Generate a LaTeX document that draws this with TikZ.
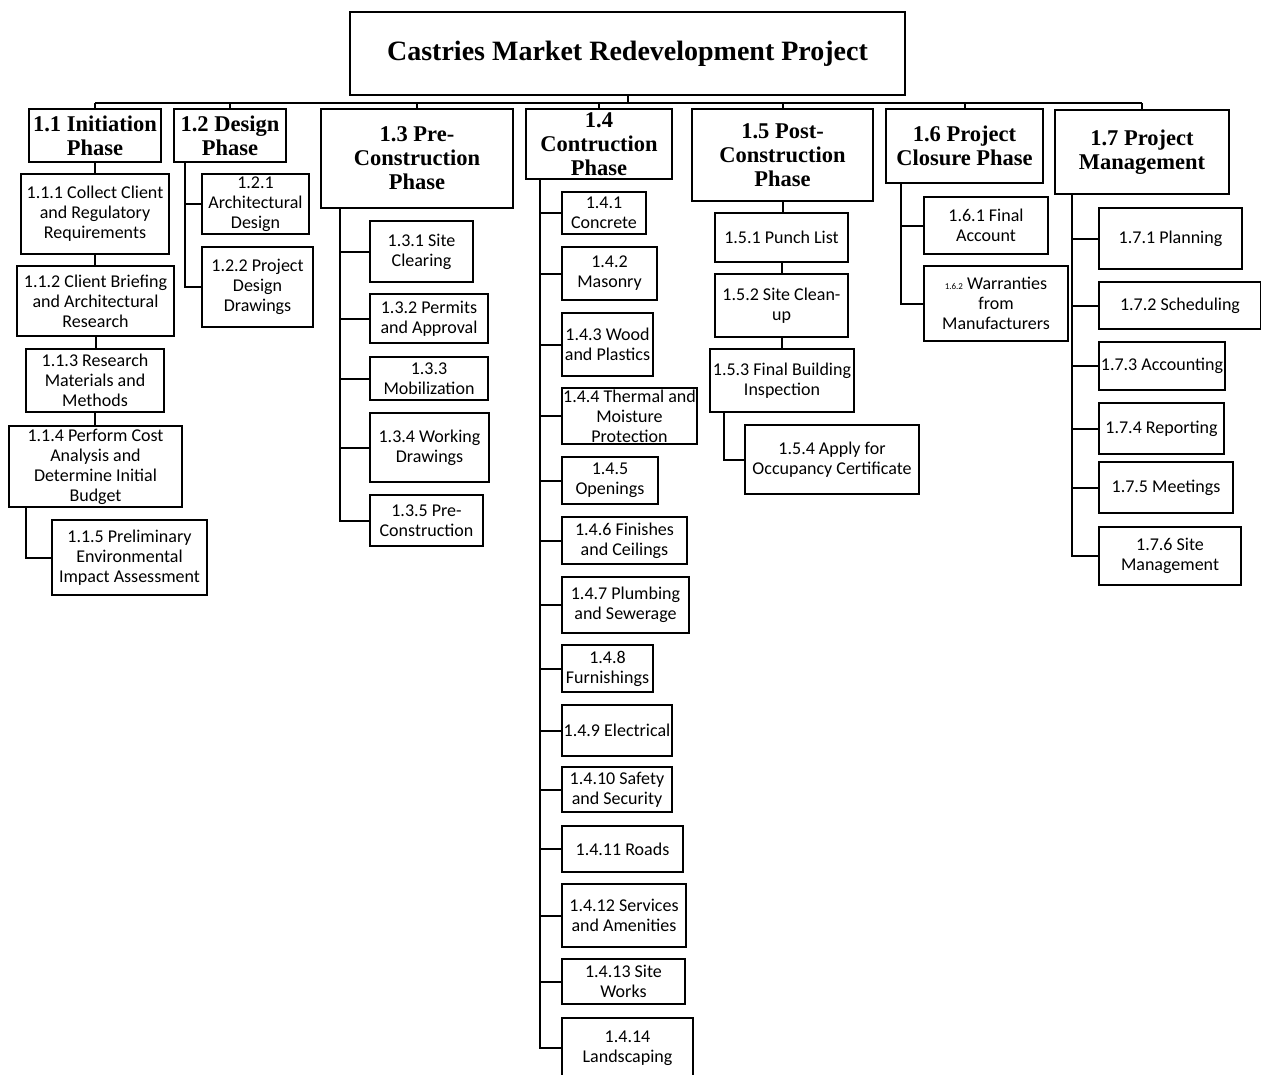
\documentclass[tikz,border=0pt]{standalone}
\usepackage{fontspec}
\setmainfont{Carlito}
\newfontfamily\serifb{Liberation Serif}
\usetikzlibrary{calc}
\tikzset{
  wbs/.style={draw, line width=2pt, inner sep=0pt, align=center, font=\fontsize{18}{20}\selectfont},
  phase/.style={wbs, font=\serifb\bfseries\fontsize{22.5}{24}\selectfont},
  toptitle/.style={wbs, font=\serifb\bfseries\fontsize{28}{30}\selectfont},
  link/.style={line width=2pt},
}
\newcommand\wbsnode[7]{\node[#1, minimum width={(#5-#3)*1pt}, minimum height={(#6-#4)*1pt}] (#2) at ({(#3+#5)/2},{(#4+#6)/2}) {#7};}
\begin{document}
\begin{tikzpicture}[x=1pt,y=-1pt]
\useasboundingbox (0,0) rectangle (1261,1074);
\clip (0,0) rectangle (1261,1074);
% top
\wbsnode{toptitle}{top}{350}{12}{905}{95}{\raisebox{-3pt}{Castries Market Redevelopment Project}}
% phases
\wbsnode{phase}{p1}{29}{109}{161}{162}{1.1 Initiation\\Phase}
\wbsnode{phase}{p2}{174}{109}{286}{162}{1.2 Design\\Phase}
\wbsnode{phase}{p3}{321}{109}{513}{208}{1.3 Pre-\\Construction\\Phase}
\wbsnode{phase}{p4}{526}{109}{672}{179}{1.4\\Contruction\\Phase}
\wbsnode{phase}{p5}{692}{109}{873}{201}{1.5 Post-\\Construction\\Phase}
\wbsnode{phase}{p6}{886}{109}{1043}{183}{1.6 Project\\Closure Phase}
\wbsnode{phase}{p7}{1055}{110}{1229}{194}{1.7 Project\\Management}
% 1.1
\wbsnode{wbs}{a1}{21}{174}{169}{254}{1.1.1 Collect Client\\and Regulatory\\Requirements}
\wbsnode{wbs}{a2}{17}{266}{174}{336}{1.1.2 Client Briefing\\and Architectural\\Research}
\wbsnode{wbs}{a3}{26}{349}{164}{412}{1.1.3 Research\\Materials and\\Methods}
\wbsnode{wbs}{a4}{9}{426}{182}{507}{1.1.4 Perform Cost\\Analysis and\\Determine Initial\\Budget}
\wbsnode{wbs}{a5}{52}{520}{207}{595}{1.1.5 Preliminary\\Environmental\\Impact Assessment}
% 1.2
\wbsnode{wbs}{b1}{202}{174}{309}{234}{1.2.1\\Architectural\\Design}
\wbsnode{wbs}{b2}{202}{247}{313}{327}{1.2.2 Project\\Design\\Drawings}
% 1.3
\wbsnode{wbs}{c1}{370}{221}{473}{282}{1.3.1 Site\\Clearing}
\wbsnode{wbs}{c2}{370}{294}{488}{343}{1.3.2 Permits\\and Approval}
\wbsnode{wbs}{c3}{370}{357}{488}{400}{1.3.3\\Mobilization}
\wbsnode{wbs}{c4}{370}{413}{489}{482}{1.3.4 Working\\Drawings}
\wbsnode{wbs}{c5}{370}{495}{483}{546}{1.3.5 Pre-\\Construction}
% 1.4
\wbsnode{wbs}{d1}{562}{192}{646}{234}{1.4.1\\Concrete}
\wbsnode{wbs}{d2}{562}{247}{657}{300}{1.4.2\\Masonry}
\wbsnode{wbs}{d3}{562}{313}{653}{376}{1.4.3 Wood\\and Plastics}
\wbsnode{wbs}{d4}{562}{388}{697}{444}{1.4.4 Thermal and\\Moisture\\Protection}
\wbsnode{wbs}{d5}{562}{457}{658}{504}{1.4.5\\Openings}
\wbsnode{wbs}{d6}{562}{517}{687}{564}{1.4.6 Finishes\\and Ceilings}
\wbsnode{wbs}{d7}{562}{577}{689}{633}{1.4.7 Plumbing\\and Sewerage}
\wbsnode{wbs}{d8}{562}{645}{653}{692}{1.4.8\\Furnishings}
\wbsnode{wbs}{d9}{562}{705}{672}{756}{1.4.9 Electrical}
\wbsnode{wbs}{d10}{562}{767}{672}{812}{1.4.10 Safety\\and Security}
\wbsnode{wbs}{d11}{562}{826}{683}{872}{1.4.11 Roads}
\wbsnode{wbs}{d12}{562}{884}{686}{947}{1.4.12 Services\\and Amenities}
\wbsnode{wbs}{d13}{562}{959}{685}{1004}{1.4.13 Site\\Works}
\wbsnode{wbs}{d14}{562}{1018}{693}{1078}{1.4.14\\Landscaping}
% 1.5
\wbsnode{wbs}{e1}{715}{213}{848}{262}{1.5.1 Punch List}
\wbsnode{wbs}{e2}{715}{274}{848}{337}{1.5.2 Site Clean-\\up}
\wbsnode{wbs}{e3}{710}{349}{854}{412}{1.5.3 Final Building\\Inspection}
\wbsnode{wbs}{e4}{745}{425}{919}{494}{1.5.4 Apply for\\Occupancy Certificate}
% 1.6
\wbsnode{wbs}{f1}{924}{197}{1048}{254}{1.6.1 Final\\Account}
\wbsnode{wbs}{f2}{924}{266}{1068}{341}{{\fontsize{9}{10}\selectfont 1.6.2} Warranties\\from\\Manufacturers}
% 1.7
\wbsnode{wbs}{g1}{1099}{208}{1242}{269}{1.7.1 Planning}
\wbsnode{wbs}{g2}{1099}{282}{1261}{329}{1.7.2 Scheduling}
\wbsnode{wbs}{g3}{1099}{342}{1225}{390}{1.7.3 Accounting}
\wbsnode{wbs}{g4}{1099}{403}{1224}{454}{1.7.4 Reporting}
\wbsnode{wbs}{g5}{1099}{462}{1233}{513}{1.7.5 Meetings}
\wbsnode{wbs}{g6}{1099}{527}{1241}{585}{1.7.6 Site\\Management}
% bus
\coordinate (busy) at (0,103);
\draw[link] (p1.north |- busy) -- (p7.north |- busy);
\draw[link] (top.south) -- (top.south |- busy);
\foreach \p in {p1,p2,p3,p4,p5,p6,p7} \draw[link] (\p.north) -- (\p.north |- busy);
% 1.1 chain
\draw[link] (p1.south) -- (p1.south |- a1.north);
\draw[link] (a1.south) -- (a1.south |- a2.north);
\draw[link] (a2.south) -- (a2.south |- a3.north);
\draw[link] (a3.south) -- (a3.south |- a4.north);
\draw[link] ($(a4.south west)+(18,0)$) |- (a5.west);
% 1.2
\foreach \c in {b1,b2} \draw[link] ($(p2.south west)+(12,0)$) |- (\c.west);
% 1.3
\foreach \c in {c1,c2,c3,c4,c5} \draw[link] ($(p3.south west)+(20,0)$) |- (\c.west);
% 1.4
\foreach \c in {d1,d2,d3,d4,d5,d6,d7,d8,d9,d10,d11,d12,d13,d14} \draw[link] ($(p4.south west)+(15,0)$) |- (\c.west);
% 1.5
\draw[link] (p5.south) -- (p5.south |- e1.north);
\draw[link] (e1.south) -- (e1.south |- e2.north);
\draw[link] (e2.south) -- (e2.south |- e3.north);
\draw[link] ($(e3.south west)+(15,0)$) |- (e4.west);
% 1.6
\foreach \c in {f1,f2} \draw[link] ($(p6.south west)+(16,0)$) |- (\c.west);
% 1.7
\foreach \c in {g1,g2,g3,g4,g5,g6} \draw[link] ($(p7.south west)+(18,0)$) |- (\c.west);
\end{tikzpicture}
\end{document}
